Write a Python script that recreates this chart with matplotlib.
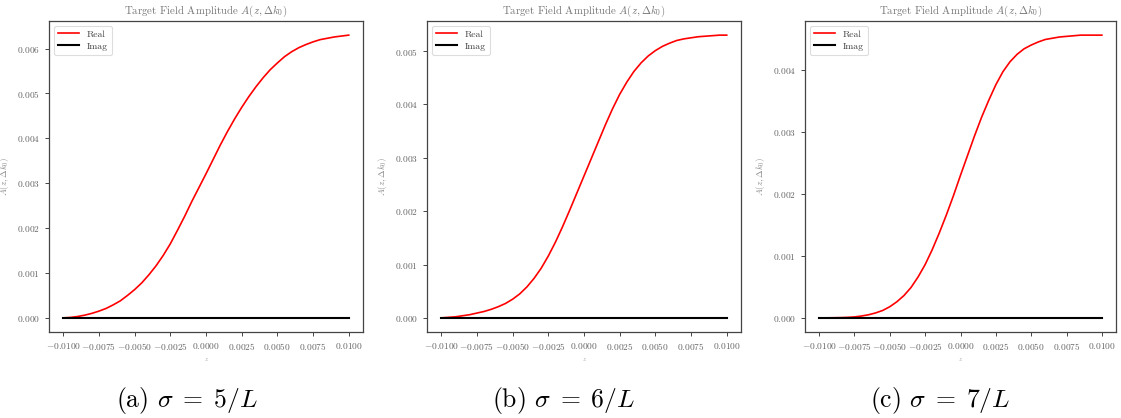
import numpy as np
import matplotlib
matplotlib.use("Agg")
import matplotlib.pyplot as plt
from matplotlib.ticker import FuncFormatter

plt.rcParams["font.family"] = "serif"
plt.rcParams["font.serif"] = ["cmr10"]
plt.rcParams["mathtext.fontset"] = "cm"
plt.rcParams["axes.unicode_minus"] = True

# ===============================
# DATA
# ===============================

z = [-0.0100, -0.0095, -0.0090, -0.0085, -0.0080, -0.0075, -0.0070, -0.0065,
     -0.0060, -0.0055, -0.0050, -0.0045, -0.0040, -0.0035, -0.0030, -0.0025,
     -0.0020, -0.0015, -0.0010, -0.0005, 0.0000, 0.0005, 0.0010, 0.0015,
     0.0020, 0.0025, 0.0030, 0.0035, 0.0040, 0.0045, 0.0050, 0.0055, 0.0060,
     0.0065, 0.0070, 0.0075, 0.0080, 0.0085, 0.0090, 0.0095, 0.0100]

# sigma = 5/L
real_a = [0.0, 0.00001, 0.00003, 0.00006, 0.00010, 0.00015, 0.00021, 0.00029,
          0.00038, 0.00050, 0.00063, 0.00078, 0.00096, 0.00116, 0.00139,
          0.00165, 0.00195, 0.00226, 0.00259, 0.00290, 0.00321, 0.00353,
          0.00385, 0.00415, 0.00443, 0.00469, 0.00493, 0.00515, 0.00535,
          0.00553, 0.00568, 0.00582, 0.00593, 0.00602, 0.00609, 0.00615,
          0.00620, 0.00623, 0.00626, 0.00628, 0.00630]

# sigma = 6/L
real_b = [0.0, 0.00001, 0.00002, 0.00004, 0.00006, 0.00009, 0.00012, 0.00016,
          0.00021, 0.00027, 0.00035, 0.00045, 0.00058, 0.00074, 0.00093,
          0.00116, 0.00142, 0.00171, 0.00202, 0.00234, 0.00266, 0.00298,
          0.00330, 0.00362, 0.00392, 0.00419, 0.00442, 0.00462, 0.00478,
          0.00491, 0.00501, 0.00509, 0.00515, 0.00520, 0.00523, 0.00525,
          0.00527, 0.00528, 0.00529, 0.00530, 0.00530]

# sigma = 7/L
real_c = [0.0, 0.0, 0.000002, 0.000004, 0.000008, 0.000015, 0.00003, 0.00005,
          0.00008, 0.00012, 0.00018, 0.00026, 0.00036, 0.00049, 0.00066,
          0.00086, 0.00110, 0.00137, 0.00166, 0.00197, 0.00230, 0.00262,
          0.00294, 0.00324, 0.00351, 0.00376, 0.00397, 0.00413, 0.00425,
          0.00434, 0.00440, 0.00445, 0.00449, 0.00451, 0.00453, 0.00454,
          0.00455, 0.00456, 0.00456, 0.00456, 0.00456]

imag = [0.0] * len(z)

captions = [r"(a) $\sigma \;=\; 5/L$", r"(b) $\sigma \;=\; 6/L$",
            r"(c) $\sigma \;=\; 7/L$"]
series = [real_a, real_b, real_c]

x_ticks = [-0.0100, -0.0075, -0.0050, -0.0025, 0.0, 0.0025, 0.0050, 0.0075, 0.0100]
y_ticks = [
    [0.000, 0.001, 0.002, 0.003, 0.004, 0.005, 0.006],
    [0.000, 0.001, 0.002, 0.003, 0.004, 0.005],
    [0.000, 0.001, 0.002, 0.003, 0.004],
]

# ===============================
# PLOT
# ===============================

W, H = 1121, 418
fig = plt.figure(figsize=(W / 100, H / 100), dpi=100)

# axes boxes in pixels: left, right, top, bottom
boxes = [(49, 363, 21, 332), (427, 741, 21, 332), (805, 1116, 21, 332)]
caption_x = [187, 564, 940]

txt_gray = "#666666"

for i in range(3):
    l, r, t, b = boxes[i]
    ax = fig.add_axes([l / W, (H - b) / H, (r - l) / W, (b - t) / H])

    ax.plot(z, series[i], color="red", linewidth=1.2, label="Real")
    ax.plot(z, imag, color="black", linewidth=1.5, label="Imag")

    ax.set_xticks(x_ticks)
    ax.set_yticks(y_ticks[i])
    ax.xaxis.set_major_formatter(FuncFormatter(lambda v, p: r"$%.4f$" % v))
    ax.yaxis.set_major_formatter(FuncFormatter(lambda v, p: r"$%.3f$" % v))
    ax.tick_params(labelsize=6.8, labelcolor=txt_gray, length=3, width=0.7,
                   color="#444444")
    for s in ax.spines.values():
        s.set_color("#444444")
        s.set_linewidth(0.9)

    ax.set_title(r"Target Field Amplitude $A(z, \Delta k_0)$", fontsize=7.8,
                 color="#777777", pad=5)
    ax.set_ylabel(r"$A(z, \Delta k_0)$", fontsize=6.5, color="#888888")
    ax.set_xlabel(r"$z$", fontsize=4.5, color="#999999", labelpad=3)

    leg = ax.legend(loc="upper left", fontsize=7, handlelength=2.2,
                    borderpad=0.4, labelspacing=0.35, framealpha=1)
    leg.get_frame().set_edgecolor("#dddddd")
    leg.get_frame().set_linewidth(0.8)
    for txt in leg.get_texts():
        txt.set_color("#444444")

    fig.text(caption_x[i] / W, (H - 400) / H, captions[i], fontsize=18.5,
             ha="center", va="center")

fig.savefig("out.png", dpi=100)
